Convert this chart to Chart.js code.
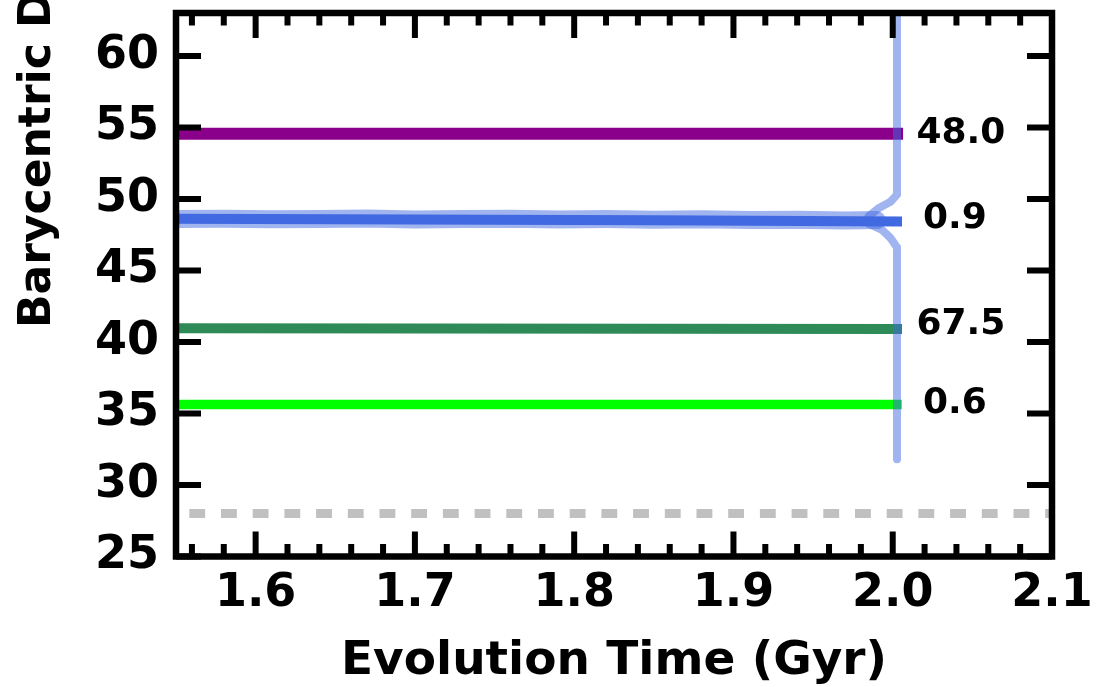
<!DOCTYPE html>
<html>
<head>
<meta charset="utf-8">
<script src="https://cdn.jsdelivr.net/npm/chart.js@4.4.1/dist/chart.umd.min.js"></script>
<style>
html,body{margin:0;padding:0;background:#fff;}
#wrap{width:1097px;height:687px;}
</style>
</head>
<body>
<div id="wrap"><canvas id="c" width="1097" height="687"></canvas></div>
<script>
// ---- data ----
const xMajorTicks = [1.6, 1.7, 1.8, 1.9, 2.0, 2.1];
const xMinorTicks = [1.56, 1.58, 1.62, 1.64, 1.66, 1.68, 1.72, 1.74, 1.76, 1.78, 1.82, 1.84, 1.86, 1.88, 1.92, 1.94, 1.96, 1.98, 2.02, 2.04, 2.06, 2.08];
const yTicks = [25, 30, 35, 40, 45, 50, 55, 60];

const purpleX = [1.55, 2.0027];
const purpleY = [54.55, 54.55];
const greenX = [1.55, 2.0027];
const greenY = [40.96, 40.9];
const limeX = [1.55, 2.0027];
const limeY = [35.62, 35.62];
const blueX = [1.55, 1.85, 2.0027];
const blueY = [48.61, 48.51, 48.43];
const bandX = [1.55, 1.58, 1.61, 1.64, 1.67, 1.70, 1.73, 1.76, 1.79, 1.82, 1.85, 1.88, 1.91, 1.94, 1.97, 1.99];
const bandY = [48.6, 48.62, 48.58, 48.6, 48.63, 48.57, 48.6, 48.62, 48.56, 48.59, 48.55, 48.58, 48.52, 48.55, 48.5, 48.52];
const spikeUpX = [1.985, 1.9914, 1.9986, 2.0027, 2.0027];
const spikeUpY = [48.8, 49.37, 49.8, 50.3, 70];
const spikeDownX = [1.985, 1.9933, 1.9986, 2.0027, 2.0027];
const spikeDownY = [48.25, 47.83, 47.27, 46.6, 31.8];
const grayX = [1.55, 2.1];
const grayY = [28.0, 28.0];

const labelText = ['48.0', '0.9', '67.5', '0.6'];
const labelX = [2.0428, 2.039, 2.0428, 2.039];
const labelY = [54.6, 48.6, 41.24, 35.66];

const xTitle = 'Evolution Time (Gyr)';
const yTitle = 'Barycentric Distance (AU)';

function pts(xs, ys) { return xs.map((x, i) => ({x: x, y: ys[i]})); }

const FONT = "'DejaVu Sans', 'Liberation Sans', sans-serif";

function ds(label, xs, ys, color, width, extra) {
  return Object.assign({
    label: label,
    data: pts(xs, ys),
    borderColor: color,
    borderWidth: width,
    pointRadius: 0,
    tension: 0,
    fill: false,
    borderCapStyle: 'square',
    borderJoinStyle: 'round',
    clip: 0
  }, extra || {});
}

const datasets = [
  ds('blue', blueX, blueY, 'rgb(65,105,225)', 10),
  ds('spikeUp', spikeUpX, spikeUpY, 'rgba(65,105,225,0.5)', 8, {borderCapStyle: 'round'}),
  ds('spikeDown', spikeDownX, spikeDownY, 'rgba(65,105,225,0.5)', 8, {borderCapStyle: 'round'}),
  ds('band', bandX, bandY, 'rgba(65,105,225,0.5)', 18, {borderCapStyle: 'round'}),
  ds('lime', limeX, limeY, 'rgb(0,255,0)', 9.5),
  ds('green', greenX, greenY, 'rgb(46,139,87)', 10),
  ds('purple', purpleX, purpleY, 'rgb(139,0,139)', 12),
  ds('gray', grayX, grayY, 'rgb(192,192,192)', 9, {borderDash: [15.85, 15.85], borderDashOffset: 18.4, borderCapStyle: 'butt'})
];

const decor = {
  id: 'decor',
  afterDraw(chart) {
    const ctx = chart.ctx;
    const xs = chart.scales.x, ys = chart.scales.y;
    const a = chart.chartArea;
    ctx.save();
    ctx.strokeStyle = '#000';
    ctx.lineCap = 'butt';
    ctx.lineWidth = 6;
    ctx.beginPath();
    xMajorTicks.forEach(v => {
      const p = xs.getPixelForValue(v);
      ctx.moveTo(p, a.bottom); ctx.lineTo(p, a.bottom - 25);
      ctx.moveTo(p, a.top); ctx.lineTo(p, a.top + 25);
    });
    xMinorTicks.forEach(v => {
      const p = xs.getPixelForValue(v);
      ctx.moveTo(p, a.bottom); ctx.lineTo(p, a.bottom - 12.5);
      ctx.moveTo(p, a.top); ctx.lineTo(p, a.top + 12.5);
    });
    yTicks.forEach(v => {
      const p = ys.getPixelForValue(v);
      ctx.moveTo(a.left, p); ctx.lineTo(a.left + 25, p);
      ctx.moveTo(a.right, p); ctx.lineTo(a.right - 25, p);
    });
    ctx.stroke();
    ctx.lineWidth = 6.5;
    ctx.lineJoin = 'miter';
    ctx.strokeRect(a.left, a.top, a.right - a.left, a.bottom - a.top);

    // right-side labels
    ctx.fillStyle = '#000';
    ctx.font = 'bold 36px ' + FONT;
    ctx.textAlign = 'center';
    ctx.textBaseline = 'middle';
    labelText.forEach((t, i) => {
      ctx.fillText(t, xs.getPixelForValue(labelX[i]), ys.getPixelForValue(labelY[i]));
    });

    // y axis title (partly cut off at the top, as in the reference)
    ctx.font = 'bold 44px ' + FONT;
    ctx.textAlign = 'left';
    ctx.textBaseline = 'alphabetic';
    ctx.translate(50, 328);
    ctx.rotate(-Math.PI / 2);
    ctx.fillText(yTitle, 0, 0);
    ctx.restore();
  }
};

new Chart(document.getElementById('c'), {
  type: 'line',
  data: {datasets: datasets},
  options: {
    responsive: false,
    animation: false,
    events: [],
    layout: {padding: {top: 13, right: 45, left: 0, bottom: 0}},
    plugins: {legend: {display: false}, tooltip: {enabled: false}},
    scales: {
      x: {
        type: 'linear',
        min: 1.55, max: 2.1,
        grid: {display: false, drawTicks: false},
        border: {display: false},
        afterBuildTicks: s => { s.ticks = xMajorTicks.map(v => ({value: v})); },
        afterFit: s => { s.height = 130.5; s.paddingLeft = 0; s.paddingRight = 0; },
        ticks: {
          autoSkip: false, maxRotation: 0, padding: 10, color: '#000',
          font: {family: FONT, weight: 'bold', size: 46},
          callback: v => Number(v).toFixed(1)
        },
        title: {
          display: true, text: xTitle, color: '#000',
          font: {family: FONT, weight: 'bold', size: 47, lineHeight: 1},
          padding: {top: 0, bottom: 2}
        }
      },
      y: {
        type: 'linear',
        min: 25, max: 63,
        grid: {display: false, drawTicks: false},
        border: {display: false},
        afterBuildTicks: s => { s.ticks = yTicks.map(v => ({value: v})); },
        afterFit: s => { s.width = 176; s.paddingTop = 0; s.paddingBottom = 0; },
        ticks: {
          autoSkip: false, padding: 17, color: '#000',
          font: {family: FONT, weight: 'bold', size: 46},
          callback: v => String(v)
        }
      }
    }
  },
  plugins: [decor]
});
</script>
</body>
</html>
